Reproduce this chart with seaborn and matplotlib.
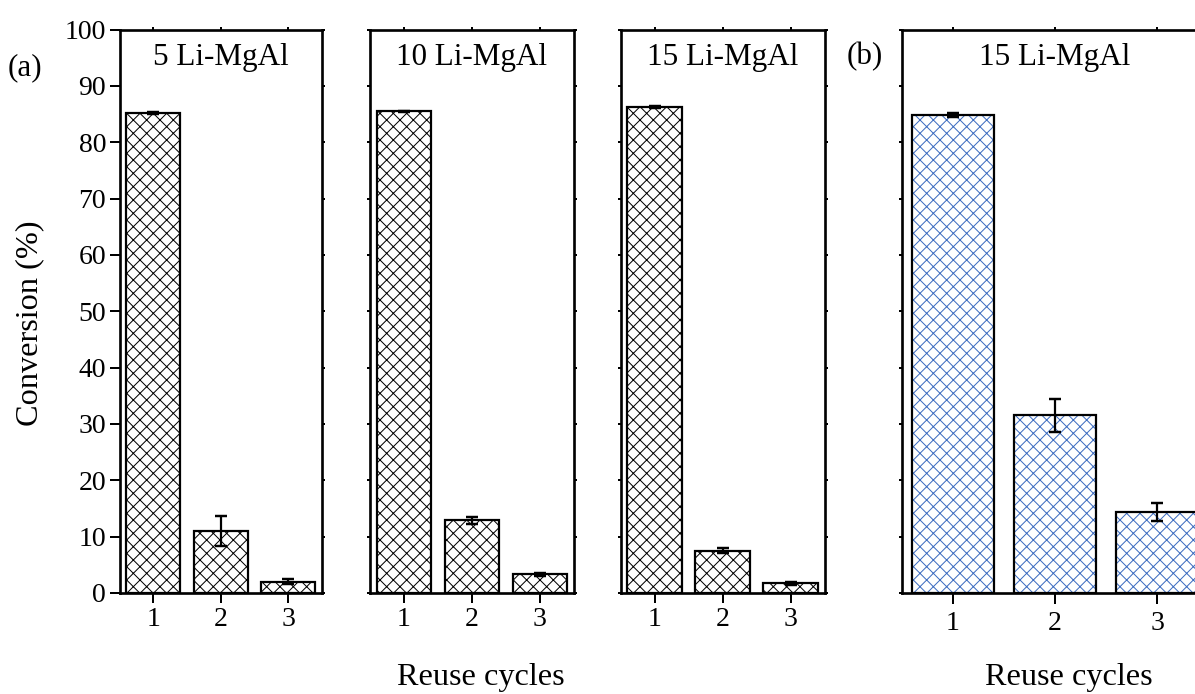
import numpy as np
import pandas as pd
import matplotlib
matplotlib.use("Agg")
import matplotlib.pyplot as plt
import seaborn as sns

# ---------------- data ----------------
cycles = ["1", "2", "3"]
titles = ["5 Li-MgAl", "10 Li-MgAl", "15 Li-MgAl"]
conv_5 = [85.2, 11.0, 2.0]
err_5 = [0.2, 2.7, 0.4]
conv_10 = [85.5, 12.9, 3.3]
err_10 = [0.1, 0.6, 0.2]
conv_15 = [86.3, 7.5, 1.7]
err_15 = [0.2, 0.4, 0.3]
conv_b = [84.8, 31.5, 14.3]
err_b = [0.3, 2.9, 1.6]
title_b = "15 Li-MgAl"
yticks = [0, 10, 20, 30, 40, 50, 60, 70, 80, 90, 100]
xlabel = "Reuse cycles"
ylabel = "Conversion (%)"

# ---------------- style ----------------
sns.set_style("white")
plt.rcParams["font.family"] = ["Liberation Serif", "DejaVu Serif"]
plt.rcParams["hatch.linewidth"] = 0.9
plt.rcParams["text.color"] = "black"
plt.rcParams["axes.labelcolor"] = "black"

DPI = 80
W, H = 1195, 694
fig = plt.figure(figsize=(W / DPI, H / DPI), dpi=DPI)
fig.patch.set_facecolor("white")


def rect(l, t, r, b):
    return [l / W, (H - b) / H, (r - l) / W, (b - t) / H]


TICK_FS = 25
TITLE_FS = 28
LABEL_FS = 29
SPINE_LW = 2.4
BAR_LW = 2.0
BLUE = "#3d6cc0"


def draw_panel(ax, vals, errs, title, hatch_color, ylabels, xpad=4, xlen=9):
    df = pd.DataFrame({"cycle": cycles, "conv": vals})
    sns.barplot(data=df, x="cycle", y="conv", order=cycles, color="white",
                saturation=1, edgecolor=hatch_color, linewidth=0, hatch="xx",
                width=0.8, errorbar=None, ax=ax)
    sns.barplot(data=df, x="cycle", y="conv", order=cycles, color="black",
                fill=False, linewidth=BAR_LW, width=0.8, errorbar=None, ax=ax)
    ax.errorbar(np.arange(len(cycles)), vals, yerr=errs, fmt="none",
                ecolor="black", elinewidth=2.0, capsize=5.4, capthick=2.2,
                zorder=5)
    ax.set_xlim(-0.5, len(cycles) - 0.5)
    ax.set_ylim(0, 100)
    ax.set_xlabel("")
    ax.set_ylabel("")
    ax.set_yticks(yticks)
    ax.set_xticks(np.arange(len(cycles)))
    ax.set_xticklabels(cycles)
    for s in ax.spines.values():
        s.set_visible(True)
        s.set_linewidth(SPINE_LW)
        s.set_color("black")
    ax.tick_params(axis="x", direction="out", length=xlen, width=1.8,
                   bottom=True, top=True, labelsize=TICK_FS, pad=xpad,
                   colors="black")
    ax.tick_params(axis="y", direction="out",
                   length=9 if ylabels else 3, width=1.8,
                   left=True, right=True, labelleft=ylabels,
                   labelsize=TICK_FS, pad=3, colors="black")
    for t in ax.xaxis.get_major_ticks():
        t.tick2line.set_markersize(3)
    for t in ax.yaxis.get_major_ticks():
        t.tick2line.set_markersize(3)
    ax.text(0.5, 0.95, title, transform=ax.transAxes, ha="center",
            va="center", fontsize=TITLE_FS, color="black")


axes_px = [(119.5, 322), (370, 574), (620.5, 824.5)]
data_a = [(conv_5, err_5), (conv_10, err_10), (conv_15, err_15)]
for i, ((l, r), (v, e)) in enumerate(zip(axes_px, data_a)):
    ax = fig.add_axes(rect(l, 29.5, r, 593))
    draw_panel(ax, v, e, titles[i], "black", ylabels=(i == 0))

axb = fig.add_axes(rect(902, 29.5, 1208, 593))
draw_panel(axb, conv_b, err_b, title_b, BLUE, ylabels=False, xpad=6, xlen=10)

fig.text(29.5 / W, 1 - 323 / H, ylabel, rotation=90, ha="center",
         va="center", fontsize=LABEL_FS)
fig.text(481 / W, 1 - 678 / H, xlabel, ha="center", va="center",
         fontsize=LABEL_FS)
fig.text(1069 / W, 1 - 678 / H, xlabel, ha="center", va="center",
         fontsize=LABEL_FS)
fig.text(25 / W, 1 - 68 / H, "(a)", ha="center", va="center",
         fontsize=TITLE_FS)
fig.text(865 / W, 1 - 57 / H, "(b)", ha="center", va="center",
         fontsize=TITLE_FS)

fig.savefig("out.png", dpi=DPI, facecolor="white")
